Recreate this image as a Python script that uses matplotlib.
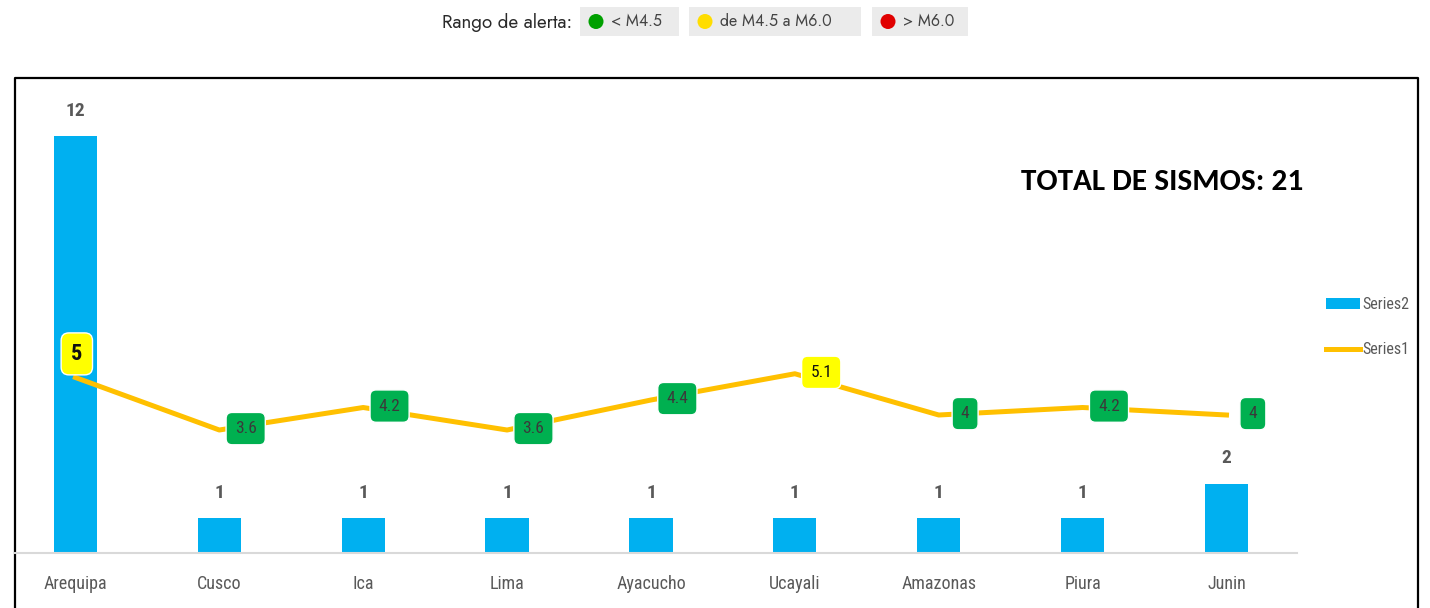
import matplotlib
matplotlib.use("Agg")
import matplotlib.pyplot as plt
from matplotlib.patches import Rectangle, Circle
from matplotlib.lines import Line2D

# datos
departamentos = ["Arequipa", "Cusco", "Ica", "Lima", "Ayacucho", "Ucayali", "Amazonas", "Piura", "Junin"]
cantidad_sismos = [12, 1, 1, 1, 1, 1, 1, 1, 2]          # Series2
magnitud_max = [5, 3.6, 4.2, 3.6, 4.4, 5.1, 4, 4.2, 4]   # Series1
etiquetas_mag = ["5", "3.6", "4.2", "3.6", "4.4", "5.1", "4", "4.2", "4"]
rangos_alerta = ["< M4.5", "de M4.5 a M6.0", "> M6.0"]
total_sismos = 21

AZUL = "#00B0F0"
NARANJA = "#FFC000"
VERDE_ETQ = "#00B050"
AMARILLO_ETQ = "#FFFF00"
GRIS_TXT = "#595959"
NARROW = ["Roboto Condensed", "DejaVu Sans"]
FUTURA = ["Jost", "DejaVu Sans"]
CALIBRI = ["Carlito", "DejaVu Sans"]

W, H = 1430, 608
fig = plt.figure(figsize=(W / 100, H / 100), dpi=100)

# capa de maquetacion en pixeles
lay = fig.add_axes([0, 0, 1, 1], zorder=0)
lay.set_xlim(0, W)
lay.set_ylim(H, 0)
lay.axis("off")

# marco negro
lay.plot([15, 15, 1418, 1418], [H + 5, 78, 78, H + 5], color="black", lw=1.6)

# leyenda superior "Rango de alerta"
lay.text(572, 22, "Rango de alerta:", ha="right", va="center", fontsize=13.5,
         color="#2a2a2a", family=FUTURA, fontweight="medium")
cajas = [(580, 99), (689, 172), (872, 96)]
colores_alerta = ["#00A000", "#FFDD00", "#E00000"]
for (x0, ancho), col, txt in zip(cajas, colores_alerta, rangos_alerta):
    lay.add_patch(Rectangle((x0, 7), ancho, 29, facecolor="#EBEBEB", edgecolor="none"))
    lay.add_patch(Circle((x0 + 16, 21.5), 7.5, facecolor=col, edgecolor="none"))
    lay.text(x0 + 31, 22, txt, ha="left", va="center", fontsize=11.5,
             color="#444444", family=FUTURA)

# ejes principales
ax = fig.add_axes([15 / W, (H - 553) / H, 1282 / W, 453 / H], zorder=2)
ax.patch.set_alpha(0)
x = list(range(len(departamentos)))
ax.bar(x, cantidad_sismos, width=0.3, color=AZUL, label="Series2", zorder=2)
ax.set_xlim(-0.42, 8.49)
ax.set_ylim(0, 13.05)
for xi, v in zip(x, cantidad_sismos):
    ax.annotate(str(v), (xi, v), xytext=(0, 12), textcoords="offset points",
                ha="center", va="bottom", fontsize=14, fontweight="bold",
                color=GRIS_TXT, family=NARROW)
ax.set_xticks(x)
ax.set_xticklabels(departamentos, fontsize=13, color=GRIS_TXT, family=NARROW)
ax.tick_params(axis="x", length=0, pad=16)
ax.set_yticks([])
for s in ["top", "right", "left"]:
    ax.spines[s].set_visible(False)
ax.spines["bottom"].set_color("#D9D9D9")
ax.spines["bottom"].set_linewidth(1.5)

# eje secundario para la magnitud
ax2 = ax.twinx()
ax2.set_ylim(0.32, 12.4)
ax2.set_yticks([])
for s in ax2.spines.values():
    s.set_visible(False)
ax2.plot(x, magnitud_max, color=NARANJA, lw=3.6, solid_joinstyle="round", label="Series1", zorder=3)
for i, (xi, v, t) in enumerate(zip(x, magnitud_max, etiquetas_mag)):
    col = AMARILLO_ETQ if v >= 4.5 else VERDE_ETQ
    txtcol = "#111111" if v >= 4.5 else "#3a3a3a"
    if i == 0:
        ax2.annotate(t, (xi, v), xytext=(1, 17), textcoords="offset points", ha="center", va="center",
                     fontsize=16, fontweight="bold", color=txtcol, family=NARROW, zorder=4,
                     bbox=dict(boxstyle="round,pad=0.45,rounding_size=0.35", facecolor=col,
                               edgecolor="white", lw=1))
    else:
        ax2.annotate(t, (xi, v), xytext=(19, 1), textcoords="offset points", ha="center", va="center",
                     fontsize=12.5, color=txtcol, family=NARROW, zorder=4,
                     bbox=dict(boxstyle="round,pad=0.5,rounding_size=0.35", facecolor=col,
                               edgecolor="white", lw=1))

# total
lay.text(1303, 182, f"TOTAL DE SISMOS: {total_sismos}", ha="right", va="center",
         fontsize=22.5, fontweight="bold", color="black", family=CALIBRI)

# leyenda de series
handles = [Rectangle((0, 0), 1, 1, facecolor=AZUL), Line2D([0], [0], color=NARANJA, lw=3.6)]
fig.legend(handles, ["Series2", "Series1"], loc="center left", bbox_to_anchor=(1312 / W, 1 - 327 / H),
           frameon=False, prop={"family": NARROW, "size": 11.5}, labelcolor=GRIS_TXT,
           handlelength=2.1, handletextpad=0.15, labelspacing=1.9)

fig.savefig("out.png", dpi=100)
